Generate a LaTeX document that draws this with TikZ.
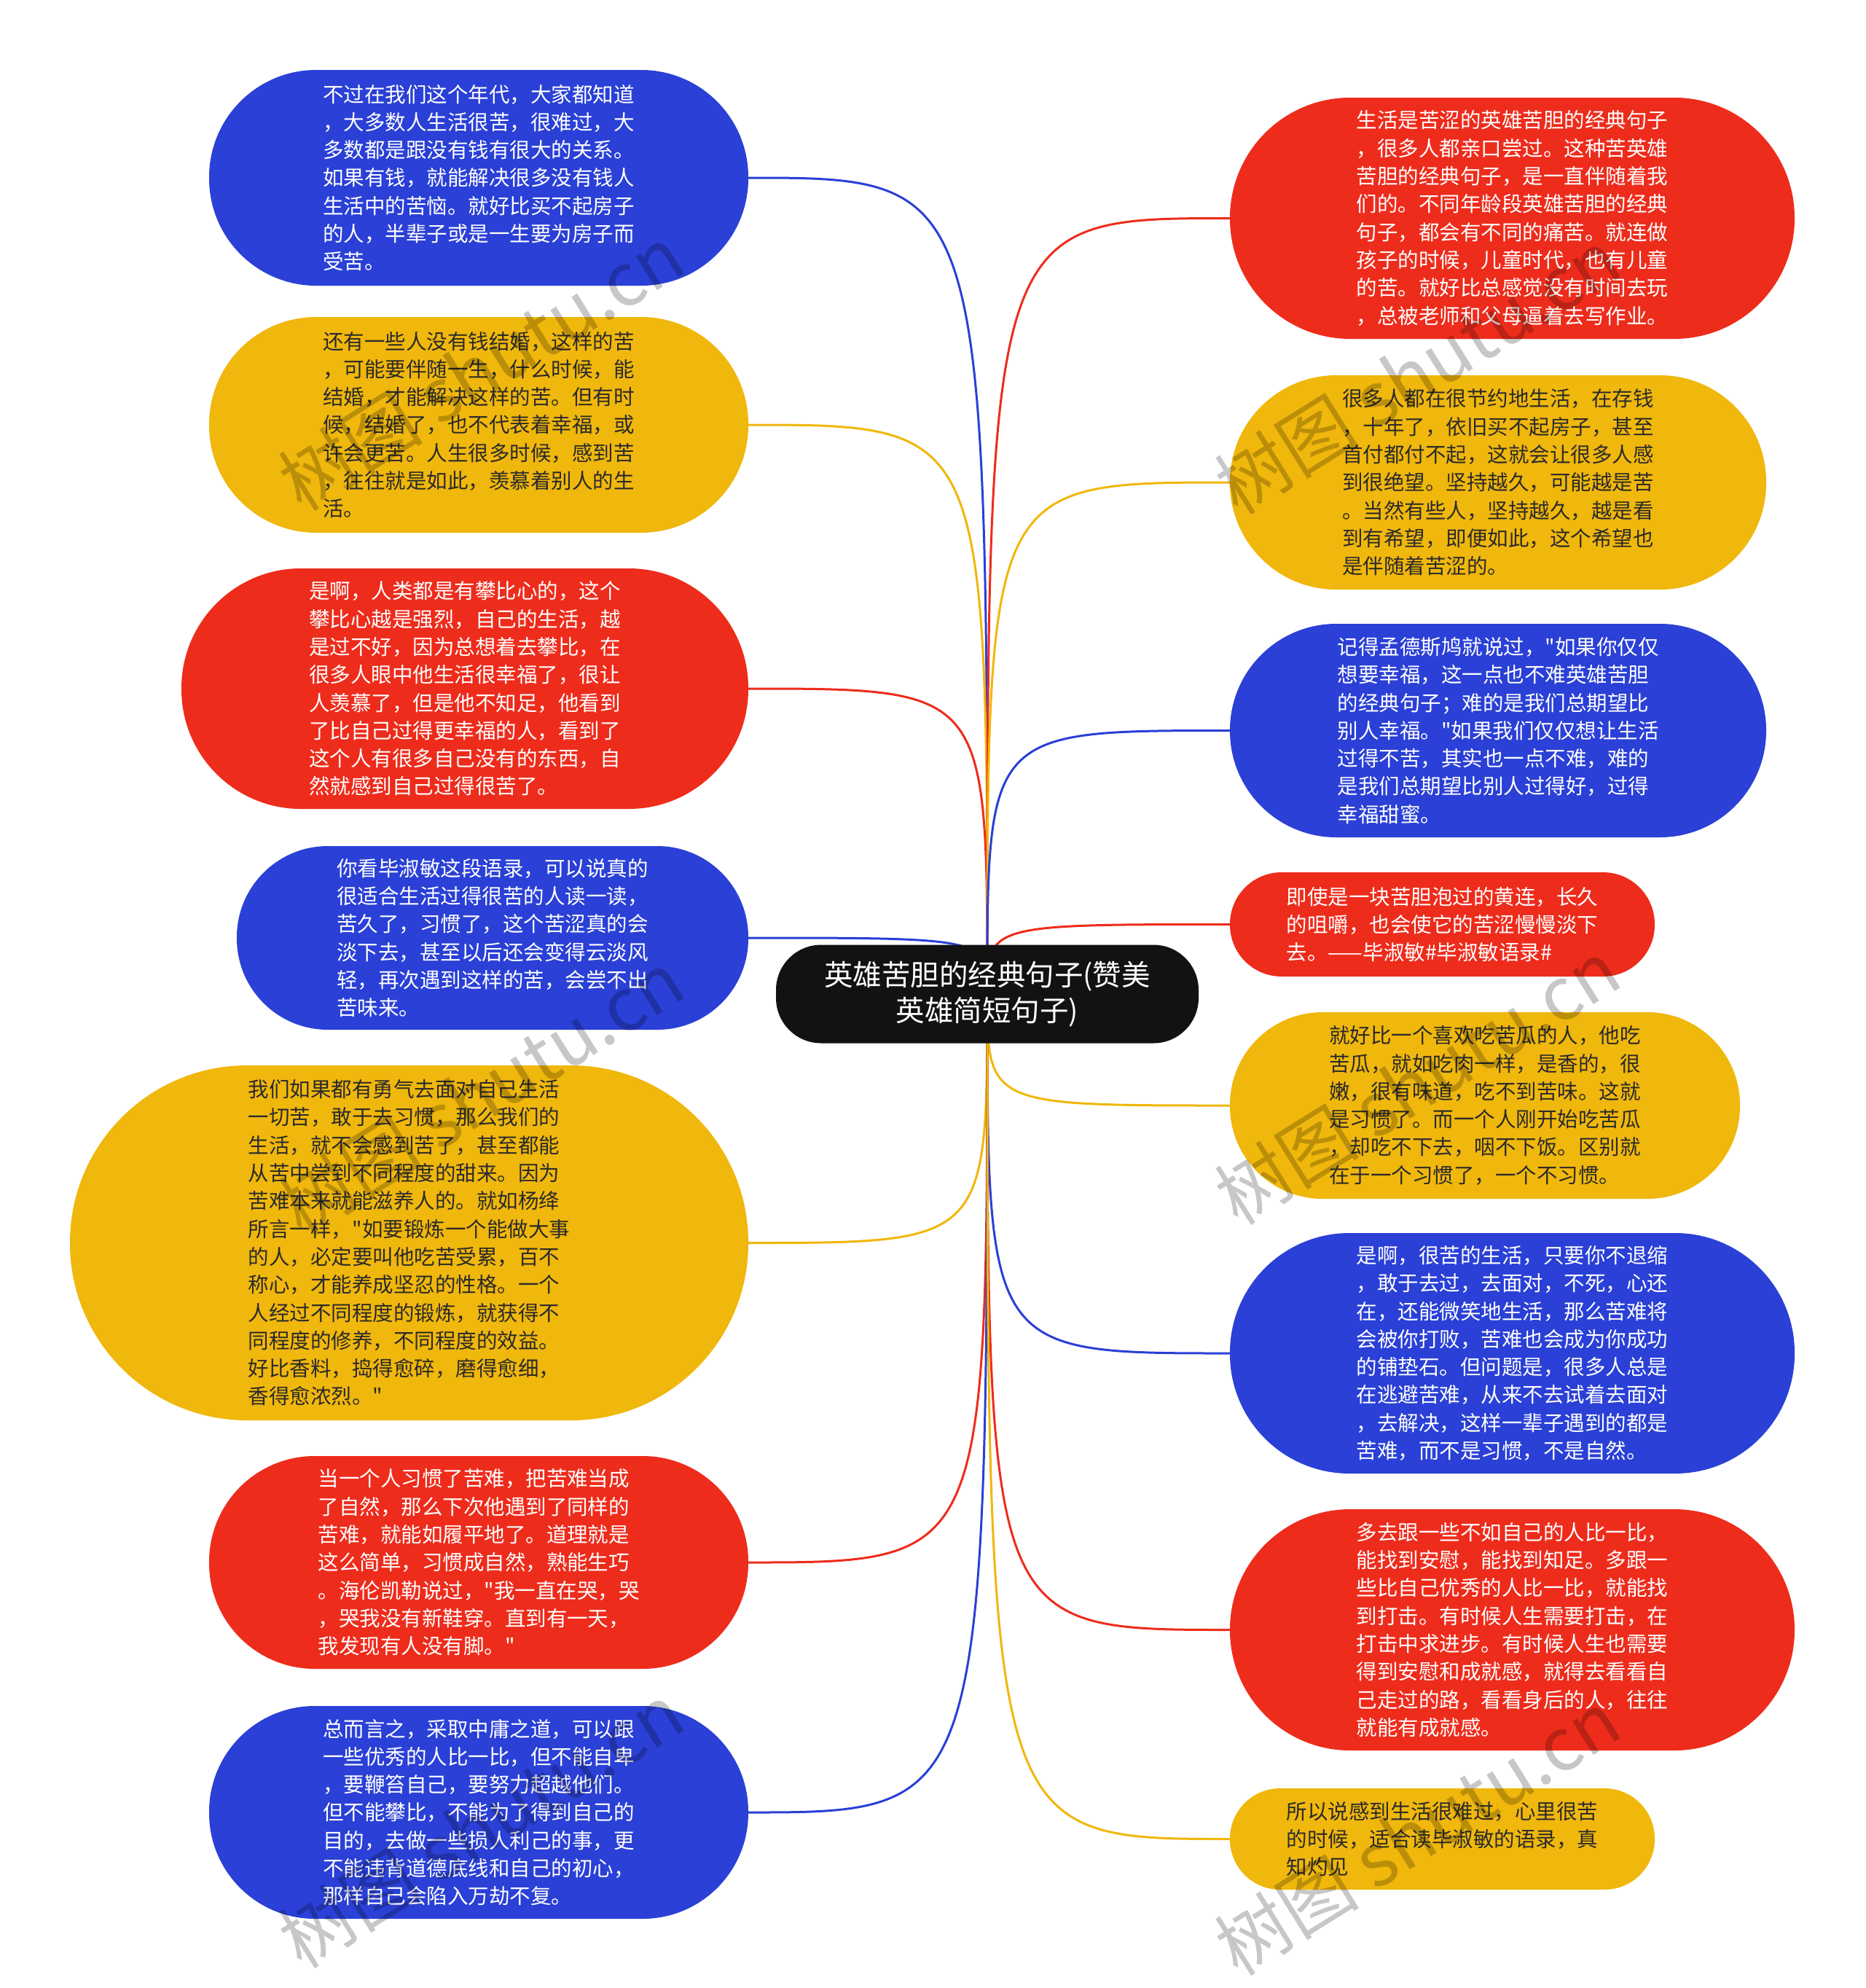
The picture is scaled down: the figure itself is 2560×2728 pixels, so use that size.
\documentclass[tikz,border=0pt]{standalone}
\usepackage{fontspec}
\newfontfamily\zh{Noto Sans CJK SC}
\definecolor{cblue}{HTML}{2A40D6}
\definecolor{cred}{HTML}{EE2C1C}
\definecolor{cyel}{HTML}{F0B70C}
\definecolor{ctxt}{HTML}{2A2A2A}
\pgfdeclarelayer{bgzero}
\pgfdeclarelayer{bgone}
\pgfsetlayers{bgzero,bgone,main}
\tikzset{
  bub/.style={rectangle, align=left, inner sep=0pt, font=\zh\fontsize{28.5}{38.3}\selectfont},
  bblue/.style={bub, fill=cblue, text=white},
  bred/.style={bub, fill=cred, text=white},
  byel/.style={bub, fill=cyel, text=ctxt},
  con/.style={line width=3pt},
  wmark/.style={rotate=32, text=black, opacity=0.22, font=\zh\fontsize{100}{100}\selectfont}
}
\begin{document}
\begin{tikzpicture}[x=1pt,y=-1pt]
\useasboundingbox (0,0) rectangle (2560,2728);
\begin{pgfonlayer}{bgzero}
\fill[white] (0,0) rectangle (2560,2728);
\end{pgfonlayer}

\node[fill=black!93, text=white, rounded corners=62pt, minimum width=580pt, minimum height=135pt, align=center, inner sep=0pt, font=\zh\fontsize{39.5}{48.7}\selectfont] (c) at (1355,1364) {英雄苦胆的经典句子(赞美\\英雄简短句子)};

% left side
\node[bblue, minimum width=740pt, minimum height=296pt, rounded corners=147pt] (l1) at (657,244) {不过在我们这个年代，大家都知道\\，大多数人生活很苦，很难过，大\\多数都是跟没有钱有很大的关系。\\如果有钱，就能解决很多没有钱人\\生活中的苦恼。就好比买不起房子\\的人，半辈子或是一生要为房子而\\受苦。};
\node[byel, minimum width=740pt, minimum height=296pt, rounded corners=147pt] (l2) at (657,583) {还有一些人没有钱结婚，这样的苦\\，可能要伴随一生，什么时候，能\\结婚，才能解决这样的苦。但有时\\候，结婚了，也不代表着幸福，或\\许会更苦。人生很多时候，感到苦\\，往往就是如此，羡慕着别人的生\\活。};
\node[bred, minimum width=778pt, minimum height=330pt, rounded corners=164pt] (l3) at (638,945) {是啊，人类都是有攀比心的，这个\\攀比心越是强烈，自己的生活，越\\是过不好，因为总想着去攀比，在\\很多人眼中他生活很幸福了，很让\\人羡慕了，但是他不知足，他看到\\了比自己过得更幸福的人，看到了\\这个人有很多自己没有的东西，自\\然就感到自己过得很苦了。};
\node[bblue, minimum width=702pt, minimum height=252pt, rounded corners=125pt] (l4) at (676,1287) {你看毕淑敏这段语录，可以说真的\\很适合生活过得很苦的人读一读，\\苦久了，习惯了，这个苦涩真的会\\淡下去，甚至以后还会变得云淡风\\轻，再次遇到这样的苦，会尝不出\\苦味来。};
\node[byel, minimum width=931pt, minimum height=487pt, rounded corners=243pt] (l5) at (561.5,1705.5) {我们如果都有勇气去面对自己生活\\一切苦，敢于去习惯，那么我们的\\生活，就不会感到苦了，甚至都能\\从苦中尝到不同程度的甜来。因为\\苦难本来就能滋养人的。就如杨绛\\所言一样，"如要锻炼一个能做大事\\的人，必定要叫他吃苦受累，百不\\称心，才能养成坚忍的性格。一个\\人经过不同程度的锻炼，就获得不\\同程度的修养，不同程度的效益。\\好比香料，捣得愈碎，磨得愈细，\\香得愈浓烈。"};
\node[bred, minimum width=740pt, minimum height=292pt, rounded corners=145pt] (l6) at (657,2144) {当一个人习惯了苦难，把苦难当成\\了自然，那么下次他遇到了同样的\\苦难，就能如履平地了。道理就是\\这么简单，习惯成自然，熟能生巧\\。海伦凯勒说过，"我一直在哭，哭\\，哭我没有新鞋穿。直到有一天，\\我发现有人没有脚。"};
\node[bblue, minimum width=740pt, minimum height=292pt, rounded corners=145pt] (l7) at (657,2487) {总而言之，采取中庸之道，可以跟\\一些优秀的人比一比，但不能自卑\\，要鞭笞自己，要努力超越他们。\\但不能攀比，不能为了得到自己的\\目的，去做一些损人利己的事，更\\不能违背道德底线和自己的初心，\\那样自己会陷入万劫不复。};

% right side
\node[bred, minimum width=775pt, minimum height=331pt, rounded corners=165pt] (r1) at (2075.5,299.5) {生活是苦涩的英雄苦胆的经典句子\\，很多人都亲口尝过。这种苦英雄\\苦胆的经典句子，是一直伴随着我\\们的。不同年龄段英雄苦胆的经典\\句子，都会有不同的痛苦。就连做\\孩子的时候，儿童时代，也有儿童\\的苦。就好比总感觉没有时间去玩\\，总被老师和父母逼着去写作业。};
\node[byel, minimum width=736pt, minimum height=294pt, rounded corners=146pt] (r2) at (2056,662) {很多人都在很节约地生活，在存钱\\，十年了，依旧买不起房子，甚至\\首付都付不起，这就会让很多人感\\到很绝望。坚持越久，可能越是苦\\。当然有些人，坚持越久，越是看\\到有希望，即便如此，这个希望也\\是伴随着苦涩的。};
\node[bblue, minimum width=736pt, minimum height=293pt, rounded corners=146pt] (r3) at (2056,1002.5) {记得孟德斯鸠就说过，"如果你仅仅\\想要幸福，这一点也不难英雄苦胆\\的经典句子；难的是我们总期望比\\别人幸福。"如果我们仅仅想让生活\\过得不苦，其实也一点不难，难的\\是我们总期望比别人过得好，过得\\幸福甜蜜。};
\node[bred, minimum width=583pt, minimum height=143pt, rounded corners=71pt] (r4) at (1979.5,1268.5) {即使是一块苦胆泡过的黄连，长久\\的咀嚼，也会使它的苦涩慢慢淡下\\去。——毕淑敏\#毕淑敏语录\#};
\node[byel, minimum width=700pt, minimum height=256pt, rounded corners=127pt] (r5) at (2038,1517) {就好比一个喜欢吃苦瓜的人，他吃\\苦瓜，就如吃肉一样，是香的，很\\嫩，很有味道，吃不到苦味。这就\\是习惯了。而一个人刚开始吃苦瓜\\，却吃不下去，咽不下饭。区别就\\在于一个习惯了，一个不习惯。};
\node[bblue, minimum width=775pt, minimum height=330pt, rounded corners=164pt] (r6) at (2075.5,1857) {是啊，很苦的生活，只要你不退缩\\，敢于去过，去面对，不死，心还\\在，还能微笑地生活，那么苦难将\\会被你打败，苦难也会成为你成功\\的铺垫石。但问题是，很多人总是\\在逃避苦难，从来不去试着去面对\\，去解决，这样一辈子遇到的都是\\苦难，而不是习惯，不是自然。};
\node[bred, minimum width=775pt, minimum height=331pt, rounded corners=165pt] (r7) at (2075.5,2236.5) {多去跟一些不如自己的人比一比，\\能找到安慰，能找到知足。多跟一\\些比自己优秀的人比一比，就能找\\到打击。有时候人生需要打击，在\\打击中求进步。有时候人生也需要\\得到安慰和成就感，就得去看看自\\己走过的路，看看身后的人，往往\\就能有成就感。};
\node[byel, minimum width=583pt, minimum height=139pt, rounded corners=69pt] (r8) at (1979.5,2523.5) {所以说感到生活很难过，心里很苦\\的时候，适合读毕淑敏的语录，真\\知灼见};

% connectors
\begin{pgfonlayer}{bgone}
\draw[con, cblue] (c.center) .. controls (c.center |- l1.east) .. (l1.east);
\draw[con, cyel]  (c.center) .. controls (c.center |- l2.east) .. (l2.east);
\draw[con, cred]  (c.center) .. controls (c.center |- l3.east) .. (l3.east);
\draw[con, cblue] (c.center) .. controls (c.center |- l4.east) .. (l4.east);
\draw[con, cyel]  (c.center) .. controls (c.center |- l5.east) .. (l5.east);
\draw[con, cred]  (c.center) .. controls (c.center |- l6.east) .. (l6.east);
\draw[con, cblue] (c.center) .. controls (c.center |- l7.east) .. (l7.east);
\draw[con, cred]  (c.center) .. controls (c.center |- r1.west) .. (r1.west);
\draw[con, cyel]  (c.center) .. controls (c.center |- r2.west) .. (r2.west);
\draw[con, cblue] (c.center) .. controls (c.center |- r3.west) .. (r3.west);
\draw[con, cred]  (c.center) .. controls (c.center |- r4.west) .. (r4.west);
\draw[con, cyel]  (c.center) .. controls (c.center |- r5.west) .. (r5.west);
\draw[con, cblue] (c.center) .. controls (c.center |- r6.west) .. (r6.west);
\draw[con, cred]  (c.center) .. controls (c.center |- r7.west) .. (r7.west);
\draw[con, cyel]  (c.center) .. controls (c.center |- r8.west) .. (r8.west);
\end{pgfonlayer}

% watermarks
\node[wmark] (w1) at (660,505) {树图 shutu.cn};
\node[wmark] (w2) at (660,1500) {树图 shutu.cn};
\node[wmark] (w3) at (660,2505) {树图 shutu.cn};
\node[wmark] (w4) at (1945,510) {树图 shutu.cn};
\node[wmark] (w5) at (1945,1485) {树图 shutu.cn};
\node[wmark] (w6) at (1945,2515) {树图 shutu.cn};
\end{tikzpicture}
\end{document}
